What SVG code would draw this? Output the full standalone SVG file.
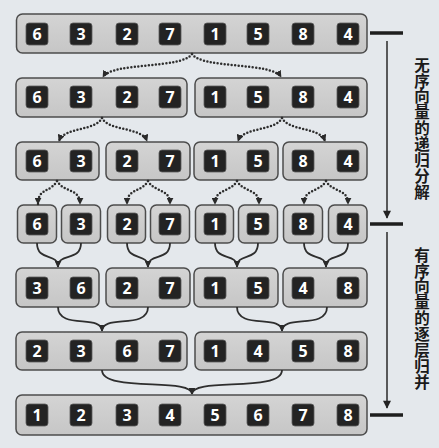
<svg xmlns="http://www.w3.org/2000/svg" width="439" height="448" viewBox="0 0 439 448">
<defs>
<linearGradient id="boxg" x1="0" y1="0" x2="0" y2="1">
<stop offset="0" stop-color="#d4d4d4"/>
<stop offset="1" stop-color="#c6c6c6"/>
</linearGradient>
<marker id="tri" viewBox="0 0 10 10" refX="9" refY="5" markerWidth="7" markerHeight="7" markerUnits="userSpaceOnUse" orient="auto">
<path d="M0,0 L10,5 L0,10 z" fill="#2a2a2a"/>
</marker>
<marker id="big" viewBox="0 0 10 10" refX="9" refY="5" markerWidth="9" markerHeight="8" markerUnits="userSpaceOnUse" orient="auto">
<path d="M0,0 L10,5 L0,10 z" fill="#222"/>
</marker>
</defs>
<style>
.bg{fill:#e4e8ec}
.box{fill:url(#boxg);stroke:#4c4c4c;stroke-width:1.5}
.cell{fill:#232323;stroke:#5a5a5a;stroke-width:0.8}
.num{fill:#ffffff;font-family:"Open Sans","Liberation Sans",sans-serif;font-weight:700;font-size:16px;text-anchor:middle;dominant-baseline:central}
.dot{fill:none;stroke:#2e2e2e;stroke-width:2.5;stroke-linecap:round;stroke-dasharray:0 3.5;marker-end:url(#tri)}
.merge{fill:none;stroke:#2e2e2e;stroke-width:1.8}
.bar{stroke:#1e1e1e;stroke-width:3.5}
.axis{stroke:#2a2a2a;stroke-width:1.5;fill:none;marker-end:url(#big)}
.lbl{fill:#1a1a1a;font-family:"Noto Sans CJK SC","Noto Sans",sans-serif;font-weight:700;font-size:15.5px;writing-mode:vertical-rl;letter-spacing:0.4px}
</style>
<rect class="bg" x="0" y="0" width="439" height="448"/>

<!-- Row 1 -->
<g id="r1">
<rect class="box" x="16.5" y="14" width="350.5" height="39" rx="6"/>
<rect class="cell" x="26" y="23" width="22" height="22" rx="3"/><text class="num" x="37" y="34">6</text>
<rect class="cell" x="70" y="23" width="22" height="22" rx="3"/><text class="num" x="81" y="34">3</text>
<rect class="cell" x="116" y="23" width="22" height="22" rx="3"/><text class="num" x="127" y="34">2</text>
<rect class="cell" x="159" y="23" width="22" height="22" rx="3"/><text class="num" x="170" y="34">7</text>
<rect class="cell" x="204" y="23" width="22" height="22" rx="3"/><text class="num" x="215" y="34">1</text>
<rect class="cell" x="247" y="23" width="22" height="22" rx="3"/><text class="num" x="258" y="34">5</text>
<rect class="cell" x="292" y="23" width="22" height="22" rx="3"/><text class="num" x="303" y="34">8</text>
<rect class="cell" x="337" y="23" width="22" height="22" rx="3"/><text class="num" x="348" y="34">4</text>
</g>

<!-- Row 2 -->
<g id="r2a">
<rect class="box" x="16" y="78" width="171" height="39" rx="6"/>
<rect class="cell" x="26" y="86" width="22" height="22" rx="3"/><text class="num" x="37" y="97">6</text>
<rect class="cell" x="70" y="86" width="22" height="22" rx="3"/><text class="num" x="81" y="97">3</text>
<rect class="cell" x="116" y="86" width="22" height="22" rx="3"/><text class="num" x="127" y="97">2</text>
<rect class="cell" x="159" y="86" width="22" height="22" rx="3"/><text class="num" x="170" y="97">7</text>
</g>
<g id="r2b">
<rect class="box" x="195" y="78" width="172" height="39" rx="6"/>
<rect class="cell" x="204" y="86" width="22" height="22" rx="3"/><text class="num" x="215" y="97">1</text>
<rect class="cell" x="247" y="86" width="22" height="22" rx="3"/><text class="num" x="258" y="97">5</text>
<rect class="cell" x="292" y="86" width="22" height="22" rx="3"/><text class="num" x="303" y="97">8</text>
<rect class="cell" x="337" y="86" width="22" height="22" rx="3"/><text class="num" x="348" y="97">4</text>
</g>

<!-- Row 3 -->
<g id="r3a">
<rect class="box" x="16" y="142" width="83" height="38" rx="6"/>
<rect class="cell" x="26" y="150" width="22" height="22" rx="3"/><text class="num" x="37" y="161">6</text>
<rect class="cell" x="70" y="150" width="22" height="22" rx="3"/><text class="num" x="81" y="161">3</text>
</g>
<g id="r3b">
<rect class="box" x="106" y="142" width="84" height="38" rx="6"/>
<rect class="cell" x="116" y="150" width="22" height="22" rx="3"/><text class="num" x="127" y="161">2</text>
<rect class="cell" x="159" y="150" width="22" height="22" rx="3"/><text class="num" x="170" y="161">7</text>
</g>
<g id="r3c">
<rect class="box" x="194" y="142" width="84" height="38" rx="6"/>
<rect class="cell" x="204" y="150" width="22" height="22" rx="3"/><text class="num" x="215" y="161">1</text>
<rect class="cell" x="247" y="150" width="22" height="22" rx="3"/><text class="num" x="258" y="161">5</text>
</g>
<g id="r3d">
<rect class="box" x="283" y="142" width="84" height="38" rx="6"/>
<rect class="cell" x="292" y="150" width="22" height="22" rx="3"/><text class="num" x="303" y="161">8</text>
<rect class="cell" x="337" y="150" width="22" height="22" rx="3"/><text class="num" x="348" y="161">4</text>
</g>

<!-- Row 4 -->
<g id="r4a"><rect class="box" x="17.5" y="205" width="39" height="38" rx="6"/><rect class="cell" x="26" y="213" width="22" height="22" rx="3"/><text class="num" x="37" y="224">6</text></g>
<g id="r4b"><rect class="box" x="61.5" y="205" width="39" height="38" rx="6"/><rect class="cell" x="70" y="213" width="22" height="22" rx="3"/><text class="num" x="81" y="224">3</text></g>
<g id="r4c"><rect class="box" x="107.5" y="205" width="38" height="38" rx="6"/><rect class="cell" x="116" y="213" width="22" height="22" rx="3"/><text class="num" x="127" y="224">2</text></g>
<g id="r4d"><rect class="box" x="150.5" y="205" width="39" height="38" rx="6"/><rect class="cell" x="159" y="213" width="22" height="22" rx="3"/><text class="num" x="170" y="224">7</text></g>
<g id="r4e"><rect class="box" x="195.5" y="205" width="38" height="38" rx="6"/><rect class="cell" x="204" y="213" width="22" height="22" rx="3"/><text class="num" x="215" y="224">1</text></g>
<g id="r4f"><rect class="box" x="238.5" y="205" width="39" height="38" rx="6"/><rect class="cell" x="247" y="213" width="22" height="22" rx="3"/><text class="num" x="258" y="224">5</text></g>
<g id="r4g"><rect class="box" x="283.5" y="205" width="39" height="38" rx="6"/><rect class="cell" x="292" y="213" width="22" height="22" rx="3"/><text class="num" x="303" y="224">8</text></g>
<g id="r4h"><rect class="box" x="328.5" y="205" width="38.5" height="38" rx="6"/><rect class="cell" x="337" y="213" width="22" height="22" rx="3"/><text class="num" x="348" y="224">4</text></g>

<!-- Row 5 -->
<g id="r5a">
<rect class="box" x="16" y="268" width="83" height="39" rx="6"/>
<rect class="cell" x="26" y="277" width="22" height="22" rx="3"/><text class="num" x="37" y="288">3</text>
<rect class="cell" x="70" y="277" width="22" height="22" rx="3"/><text class="num" x="81" y="288">6</text>
</g>
<g id="r5b">
<rect class="box" x="106" y="268" width="84" height="39" rx="6"/>
<rect class="cell" x="116" y="277" width="22" height="22" rx="3"/><text class="num" x="127" y="288">2</text>
<rect class="cell" x="159" y="277" width="22" height="22" rx="3"/><text class="num" x="170" y="288">7</text>
</g>
<g id="r5c">
<rect class="box" x="194" y="268" width="84" height="39" rx="6"/>
<rect class="cell" x="204" y="277" width="22" height="22" rx="3"/><text class="num" x="215" y="288">1</text>
<rect class="cell" x="247" y="277" width="22" height="22" rx="3"/><text class="num" x="258" y="288">5</text>
</g>
<g id="r5d">
<rect class="box" x="283" y="268" width="84" height="39" rx="6"/>
<rect class="cell" x="292" y="277" width="22" height="22" rx="3"/><text class="num" x="303" y="288">4</text>
<rect class="cell" x="337" y="277" width="22" height="22" rx="3"/><text class="num" x="348" y="288">8</text>
</g>

<!-- Row 6 -->
<g id="r6a">
<rect class="box" x="16" y="332" width="171" height="38" rx="6"/>
<rect class="cell" x="26" y="340" width="22" height="22" rx="3"/><text class="num" x="37" y="351">2</text>
<rect class="cell" x="70" y="340" width="22" height="22" rx="3"/><text class="num" x="81" y="351">3</text>
<rect class="cell" x="116" y="340" width="22" height="22" rx="3"/><text class="num" x="127" y="351">6</text>
<rect class="cell" x="159" y="340" width="22" height="22" rx="3"/><text class="num" x="170" y="351">7</text>
</g>
<g id="r6b">
<rect class="box" x="195" y="332" width="172" height="38" rx="6"/>
<rect class="cell" x="204" y="340" width="22" height="22" rx="3"/><text class="num" x="215" y="351">1</text>
<rect class="cell" x="247" y="340" width="22" height="22" rx="3"/><text class="num" x="258" y="351">4</text>
<rect class="cell" x="292" y="340" width="22" height="22" rx="3"/><text class="num" x="303" y="351">5</text>
<rect class="cell" x="337" y="340" width="22" height="22" rx="3"/><text class="num" x="348" y="351">8</text>
</g>

<!-- Row 7 -->
<g id="r7">
<rect class="box" x="16" y="395" width="351" height="40" rx="6"/>
<rect class="cell" x="26" y="404" width="22" height="22" rx="3"/><text class="num" x="37" y="415">1</text>
<rect class="cell" x="70" y="404" width="22" height="22" rx="3"/><text class="num" x="81" y="415">2</text>
<rect class="cell" x="116" y="404" width="22" height="22" rx="3"/><text class="num" x="127" y="415">3</text>
<rect class="cell" x="159" y="404" width="22" height="22" rx="3"/><text class="num" x="170" y="415">4</text>
<rect class="cell" x="204" y="404" width="22" height="22" rx="3"/><text class="num" x="215" y="415">5</text>
<rect class="cell" x="247" y="404" width="22" height="22" rx="3"/><text class="num" x="258" y="415">6</text>
<rect class="cell" x="292" y="404" width="22" height="22" rx="3"/><text class="num" x="303" y="415">7</text>
<rect class="cell" x="337" y="404" width="22" height="22" rx="3"/><text class="num" x="348" y="415">8</text>
</g>

<g id="connectors">
<path class="dot" d="M192,54 C182,69 112,62 103,77"/>
<path class="dot" d="M192,54 C202,69 272,62 281,77"/>
<path class="dot" d="M102,118 C96,131 64,127 59,141"/>
<path class="dot" d="M102,118 C108,131 142,127 147,141"/>
<path class="dot" d="M282,118 C276,131 243,127 238,141"/>
<path class="dot" d="M282,118 C288,131 320,127 325,141"/>
<path class="dot" d="M57,181 C50,193 38,188 38,204"/>
<path class="dot" d="M57,181 C64,193 80,188 80,204"/>
<path class="dot" d="M148,181 C141,193 127,188 127,204"/>
<path class="dot" d="M148,181 C155,193 170,188 170,204"/>
<path class="dot" d="M237,181 C230,193 215,188 215,204"/>
<path class="dot" d="M237,181 C244,193 259,188 259,204"/>
<path class="dot" d="M326,181 C319,193 304,188 304,204"/>
<path class="dot" d="M326,181 C333,193 348,188 348,204"/>
<path class="merge" d="M37,243 C37,262 58,252 58,267"/>
<path class="merge" d="M81,243 C81,262 58,252 58,267" marker-end="url(#tri)"/>
<path class="merge" d="M127,243 C127,262 148,252 148,267"/>
<path class="merge" d="M170,243 C170,262 148,252 148,267" marker-end="url(#tri)"/>
<path class="merge" d="M215,243 C215,262 237,252 237,267"/>
<path class="merge" d="M258,243 C258,262 237,252 237,267" marker-end="url(#tri)"/>
<path class="merge" d="M304,243 C304,262 326,252 326,267"/>
<path class="merge" d="M348,243 C348,262 326,252 326,267" marker-end="url(#tri)"/>
<path class="merge" d="M58,307 C58,330 102,314 102,331"/>
<path class="merge" d="M148,307 C148,330 102,314 102,331" marker-end="url(#tri)"/>
<path class="merge" d="M237,307 C237,330 282,314 282,331"/>
<path class="merge" d="M327,307 C327,330 282,314 282,331" marker-end="url(#tri)"/>
<path class="merge" d="M102,370 C102,393 192,377 192,394"/>
<path class="merge" d="M282,370 C282,393 192,377 192,394" marker-end="url(#tri)"/>
</g>

<g id="phases">
<line class="bar" x1="370" y1="33" x2="403" y2="33"/>
<line class="bar" x1="370" y1="224" x2="403" y2="224"/>
<line class="bar" x1="370" y1="415" x2="403" y2="415"/>
<line class="axis" x1="387" y1="41" x2="387" y2="218"/>
<line class="axis" x1="387" y1="232" x2="387" y2="408"/>
</g>

<g id="label-split">
<text class="lbl" x="422" y="57">无序向量的递归分解</text>
</g>
<g id="label-merge">
<text class="lbl" x="422" y="247">有序向量的逐层归并</text>
</g>
</svg>
